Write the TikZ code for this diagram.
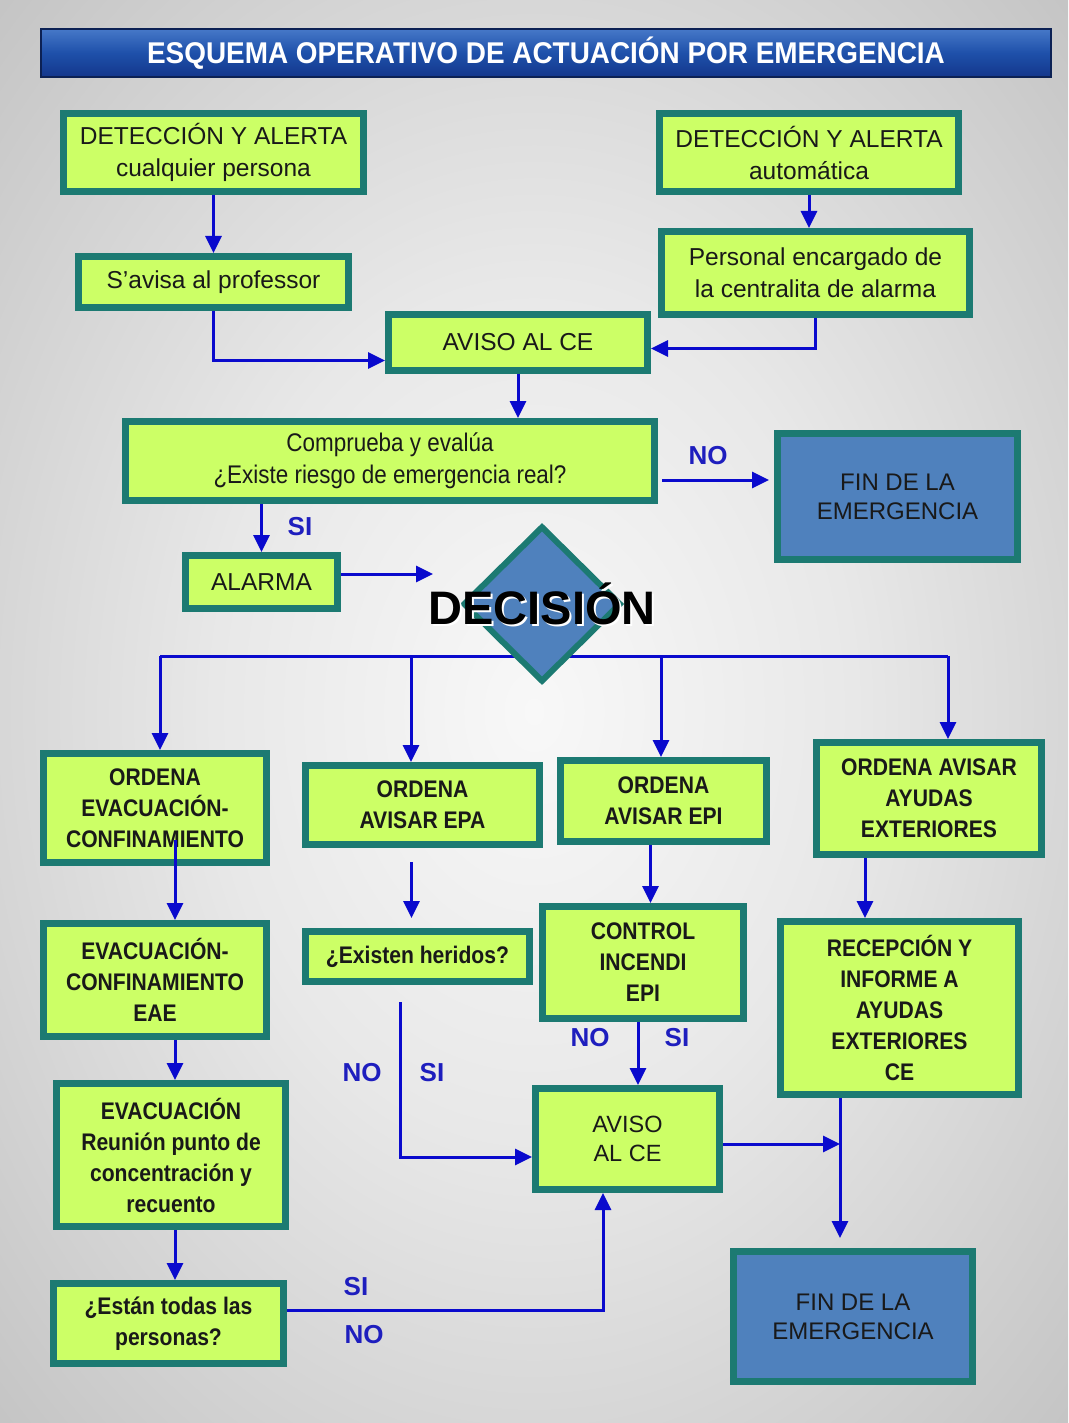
\documentclass[tikz,border=0pt]{standalone}
\usepackage{fontspec}
\setmainfont{Liberation Sans}
\newfontfamily\lowfam[FakeStretch=0.88]{Liberation Sans}
\newfontfamily\titlefam[FakeStretch=0.93]{Liberation Sans}
\usetikzlibrary{shapes.geometric,arrows.meta}
\definecolor{boxgreen}{RGB}{204,255,102}
\definecolor{boxteal}{RGB}{28,122,114}
\definecolor{finblue}{RGB}{79,129,189}
\definecolor{arrblue}{RGB}{10,10,205}
\definecolor{lblblue}{RGB}{30,30,190}
\definecolor{titletop}{RGB}{70,120,200}
\definecolor{titlemid}{RGB}{30,80,170}
\definecolor{titlebot}{RGB}{20,55,140}
\definecolor{bgin}{RGB}{248,248,248}
\definecolor{bgmid}{RGB}{232,232,232}
\definecolor{bgout}{RGB}{128,128,128}
\pgfdeclareradialshading{bgshade}{\pgfpoint{0bp}{0bp}}{color(0bp)=(bgin); color(15bp)=(bgmid); color(75bp)=(bgout)}
\begin{document}
\begin{tikzpicture}[x=1pt, y=-1pt,
  box/.style={rectangle, fill=boxgreen, draw=boxteal, line width=7pt, inner sep=0pt, align=center, text=black!90, font=\fontsize{24.5}{32}\selectfont},
  lowbox/.style={box, font=\lowfam\bfseries\fontsize{24}{31}\selectfont},
  finbox/.style={box, fill=finblue, font=\fontsize{24}{29}\selectfont},
  decbox/.style={diamond, fill=finblue, draw=boxteal, line width=6pt, minimum width=158pt, minimum height=156pt, inner sep=0pt},
  dectxt/.style={font=\bfseries\fontsize{47}{50}\selectfont, inner sep=0pt},
  titlebar/.style={rectangle, minimum width=1010pt, minimum height=48pt, top color=titletop, bottom color=titlebot, middle color=titlemid, draw=titlebot!60!black, line width=1.5pt, text=white, font=\titlefam\bfseries\fontsize{30}{34}\selectfont},
  arr/.style={draw=arrblue, line width=3pt, -{Triangle[width=16pt,length=17pt]}},
  bus/.style={draw=arrblue, line width=3pt},
  lbl/.style={text=lblblue, inner sep=0pt, font=\bfseries\fontsize{26}{30}\selectfont}]
% Background and title
\shade[shading=bgshade] (0,0) rectangle (1068,1423);
\useasboundingbox (0,0) rectangle (1068,1423);
\node[titlebar] (title) at (546,53) {ESQUEMA OPERATIVO DE ACTUACIÓN POR EMERGENCIA};
% Detection and first warnings
\node[box, minimum width=300pt, minimum height=78pt] (det1) at (213.5,152.5) {DETECCIÓN Y ALERTA\\cualquier persona};
\node[box, minimum width=299pt, minimum height=78pt] (det2) at (809,152.5) {DETECCIÓN Y ALERTA\\automática};
\node[box, minimum width=270pt, minimum height=51pt] (avisa) at (213.5,282) {S’avisa al professor};
\node[box, minimum width=308pt, minimum height=83pt] (personal) at (815.5,273) {Personal encargado de\\la centralita de alarma};
\node[box, minimum width=259pt, minimum height=56pt] (aviso1) at (518,342.5) {AVISO AL CE};
\node[box, minimum width=529pt, minimum height=79pt, font=\lowfam\fontsize{25.5}{32}\selectfont] (comprueba) at (390,461) {Comprueba y evalúa\\¿Existe riesgo de emergencia real?};
\node[finbox, minimum width=240pt, minimum height=126pt] (fin1) at (897.5,496.5) {FIN DE LA\\EMERGENCIA};
\node[box, minimum width=152pt, minimum height=53pt] (alarma) at (261.5,582) {ALARMA};
% Decision and bus
\coordinate (b1) at (160,656); \coordinate (b2) at (411,656); \coordinate (b3) at (661,656); \coordinate (b4) at (948,656);
\draw[bus] (b1) -- (b4);
\node[decbox] (dec) at (542,604) {};
% Orders
\node[lowbox, minimum width=223pt, minimum height=109pt] (ord1) at (155,808) {ORDENA\\EVACUACIÓN-\\CONFINAMIENTO};
\node[lowbox, minimum width=234pt, minimum height=79pt] (ord2) at (422.5,805) {ORDENA\\AVISAR EPA};
\node[lowbox, minimum width=206pt, minimum height=81pt] (ord3) at (663.5,801) {ORDENA\\AVISAR EPI};
\node[lowbox, minimum width=225pt, minimum height=112pt] (ord4) at (929,798.5) {ORDENA AVISAR\\AYUDAS\\EXTERIORES};
% Actions
\node[lowbox, minimum width=223pt, minimum height=113pt] (evac1) at (155,980) {EVACUACIÓN-\\CONFINAMIENTO\\EAE};
\node[lowbox, minimum width=224pt, minimum height=50pt] (heridos) at (417.5,956.5) {¿Existen heridos?};
\node[lowbox, minimum width=201pt, minimum height=112pt] (control) at (643,962.5) {CONTROL\\INCENDI\\EPI};
\node[lowbox, minimum width=238pt, minimum height=173pt] (recep) at (899.5,1008) {RECEPCIÓN Y\\INFORME A\\AYUDAS\\EXTERIORES\\CE};
\node[lowbox, minimum width=229pt, minimum height=143pt] (evac2) at (171,1155) {EVACUACIÓN\\Reunión punto de\\concentración y\\recuento};
\node[box, minimum width=184pt, minimum height=101pt, font=\fontsize{23.5}{29}\selectfont] (aviso2) at (627.5,1139) {AVISO\\AL CE};
\node[lowbox, minimum width=230pt, minimum height=80pt] (estan) at (168.5,1323.5) {¿Están todas las\\personas?};
\node[finbox, minimum width=239pt, minimum height=130pt] (fin2) at (853,1316.5) {FIN DE LA\\EMERGENCIA};
% Arrows, top part
\draw[arr] (det1.south) -- (det1.south |- avisa.north);
\draw[arr] (det2.south) -- (det2.south |- personal.north);
\draw[arr] (avisa.south) |- ([yshift=-18pt]aviso1.west);
\draw[arr] (personal.south) |- ([yshift=-6pt]aviso1.east);
\draw[arr] (aviso1.south) -- (aviso1.south |- comprueba.north);
\draw[arr, shorten <=4pt, shorten >=5pt] ([yshift=-19pt]comprueba.east) -- ([yshift=-19pt]comprueba.east -| fin1.west);
\draw[arr] (comprueba.south -| alarma.north) -- (alarma.north);
\coordinate (dtip) at (433,574);
\draw[arr] ([yshift=8pt]alarma.east) -- (dtip);
% Arrows from the bus
\draw[arr] (b1) -- (b1 |- ord1.north); \draw[arr] (b2) -- (b2 |- ord2.north);
\draw[arr] (b3) -- (b3 |- ord3.north); \draw[arr] (b4) -- (b4 |- ord4.north);
% Arrows, lower part
\draw[arr] ([xshift=20pt,yshift=26pt]ord1.south) -- ([xshift=20pt]evac1.north);
\draw[arr] ([xshift=20pt]evac1.south) -- ([xshift=20pt]evac1.south |- evac2.north);
\draw[arr] ([xshift=4pt]evac2.south) -- ([xshift=4pt]evac2.south |- estan.north);
\draw[arr, shorten <=14pt, shorten >=10pt] ([xshift=-11pt]ord2.south) -- ([xshift=-11pt]ord2.south |- heridos.north);
\draw[arr, shorten <=17pt] ([xshift=-17.5pt]heridos.south) |- ([yshift=-18pt]aviso2.west);
\draw[arr] ([xshift=-13pt]ord3.south) -- ([xshift=-13pt]ord3.south |- control.north);
\draw[arr] ([xshift=-5pt]control.south) -- ([xshift=-5pt]control.south |- aviso2.north);
\draw[arr] ([xshift=-64pt]ord4.south) -- ([xshift=-64pt]ord4.south |- recep.north);
\draw[arr, shorten >=10pt] ([xshift=-59.5pt]recep.south) -- ([xshift=-59.5pt]recep.south |- fin2.north);
\coordinate (jn) at (840,1144);
\draw[arr] ([yshift=-5pt]aviso2.east) -- (jn);
\draw[arr] ([yshift=13.5pt]estan.east) -| ([xshift=-24.5pt]aviso2.south);
% Labels
\node[lbl] (no1) at (708,456) {NO}; \node[lbl] (si1) at (300,527) {SI};
\node[lbl] (no2) at (362,1073) {NO}; \node[lbl] (si2) at (432,1073) {SI};
\node[lbl] (no3) at (590,1038) {NO}; \node[lbl] (si3) at (677,1038) {SI};
\node[lbl] (si4) at (356,1287) {SI}; \node[lbl] (no4) at (364,1335) {NO};
% Decision word
\node[dectxt, text=white] (decshadow) at (544,606) {DECISIÓN};
\node[dectxt] (decword) at (542,604) {DECISIÓN};
\end{tikzpicture}
\end{document}
